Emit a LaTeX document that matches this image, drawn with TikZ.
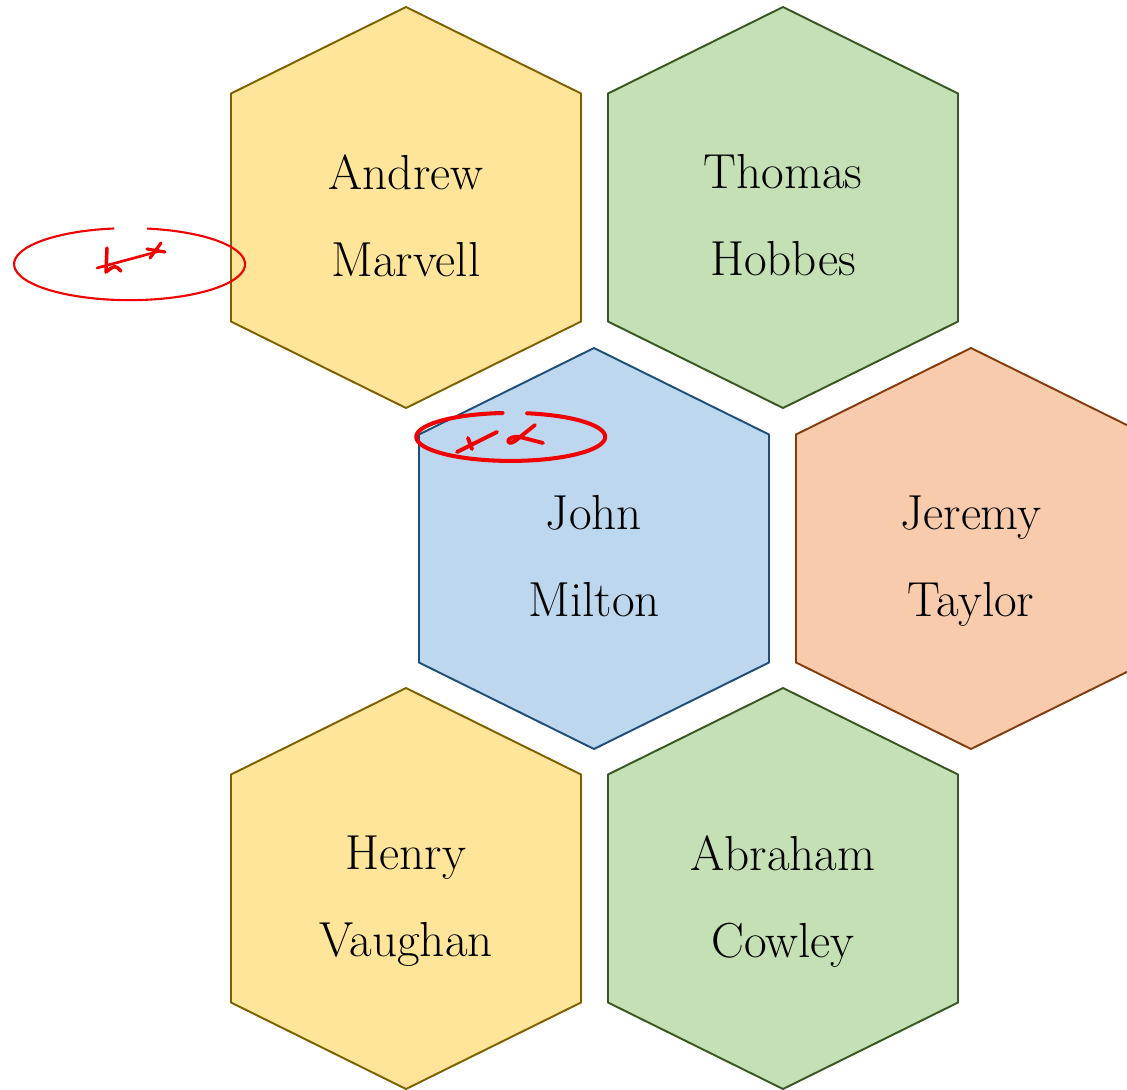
\documentclass[tikz,border=0pt]{standalone}
\usepackage{tikz}
\usetikzlibrary{calc}
\definecolor{SoftYellow}{RGB}{255,229,153}
\definecolor{DeepYellow}{RGB}{127,96,0}
\definecolor{SoftGreen}{RGB}{197,224,180}
\definecolor{DeepGreen}{RGB}{56,87,35}
\definecolor{SoftBlue}{RGB}{189,215,238}
\definecolor{DeepBlue}{RGB}{31,78,121}
\definecolor{SoftOrange}{RGB}{248,203,173}
\definecolor{DeepOrange}{RGB}{132,60,12}
\definecolor{MarkRed}{RGB}{240,0,0}
% one hexagon cell: name, centre, colour, text
\newcommand{\hexcell}[4]{%
  \draw[hexline,draw=Deep#3,fill=Soft#3] #2 ++(0,4.01) -- ++(3.5,-1.73) -- ++(0,-4.56) -- ++(-3.5,-1.73) -- ++(-3.5,1.73) -- ++(0,4.56) -- cycle;
  \node[hextext] (#1) at #2 {#4};}

\begin{document}
\begin{tikzpicture}[hexline/.style={line width=1.1pt,line join=miter},
  hextext/.style={align=center,font=\fontsize{28}{49.5}\selectfont,text depth=0.25em,yshift=-0.2cm},
  redmark/.style={draw=MarkRed,line cap=round,line join=round}]
\useasboundingbox (0,0) rectangle (22.54,-21.78);
\clip (0,0) rectangle (22.54,-21.78);
\hexcell{marvell}{(8.12,-4.15)}{Yellow}{Andrew\\Marvell}
\hexcell{hobbes}{(15.66,-4.15)}{Green}{Thomas\\Hobbes}
\hexcell{milton}{(11.88,-10.97)}{Blue}{John\\Milton}
\hexcell{taylor}{(19.42,-10.97)}{Orange}{Jeremy\\Taylor}
\hexcell{vaughan}{(8.12,-17.77)}{Yellow}{Henry\\Vaughan}
\hexcell{cowley}{(15.66,-17.77)}{Green}{Abraham\\Cowley}
% red marks
\coordinate (markA) at (2.59,-5.31);
\coordinate (markB) at (10.21,-8.76);
\draw[redmark,line width=1.2pt] ($(markA)+(-0.32,0.74)$) arc[start angle=98,end angle=441,x radius=2.31,y radius=0.72];
\draw[redmark,line width=1.5pt] (1.94,-5.36) -- (3.2,-5.02);
\draw[redmark,line width=2pt] (2.14,-4.96) -- (2.12,-5.44) .. controls (2.3,-5.3) .. (2.42,-5.42);
\draw[redmark,line width=1.8pt] (2.94,-4.98) -- (3.3,-5.04) (3.0,-5.16) -- (3.22,-4.86);
\draw[redmark,line width=2.3pt] ($(markB)+(-0.16,0.5)$) arc[start angle=95,end angle=440,x radius=1.89,y radius=0.48];
\draw[redmark,line width=2.2pt] (9.14,-9.04) -- (9.94,-8.64) (9.36,-8.76) -- (9.44,-8.98);
\draw[redmark,line width=2.2pt] (10.7,-8.5) -- (10.3,-8.82) .. controls (10.1,-8.95) and (10.1,-8.7) .. (10.4,-8.74) -- (10.86,-8.86);
\end{tikzpicture}
\end{document}
